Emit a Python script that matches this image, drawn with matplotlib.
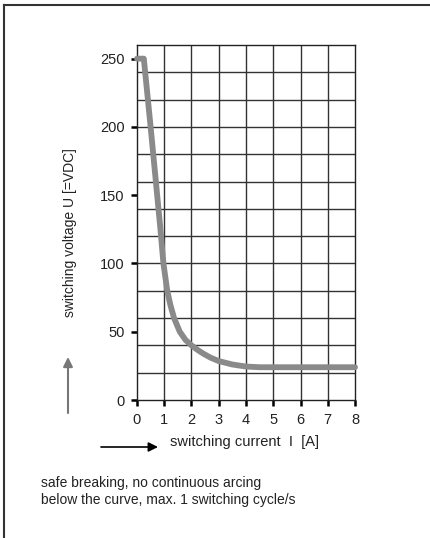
import matplotlib
matplotlib.use("Agg")
from matplotlib import pyplot as plt
from matplotlib.lines import Line2D
import numpy as np

# curve
current = [0.0, 0.25, 0.5, 0.74, 0.86, 0.97, 1.11, 1.22, 1.36, 1.57, 1.78, 2.0, 2.2, 2.43, 2.7, 3.0, 3.5, 4.0, 4.5, 8.0]
voltage = [250, 250, 200, 150, 125, 100, 80, 70, 60, 50, 44, 40, 37, 34, 31, 28.5, 26, 24.5, 24, 24]

x_ticks = [0, 1, 2, 3, 4, 5, 6, 7, 8]
y_ticks = [0, 50, 100, 150, 200, 250]

plt.rcParams['font.family'] = ['Liberation Sans Narrow', 'Liberation Sans', 'DejaVu Sans']

W, H = 431, 538
fig = plt.figure(figsize=(W / 100, H / 100), dpi=100)

# axes box in pixels: left 137, right 355, top 45, bottom 400
ax = fig.add_axes([137 / W, 1 - 400 / H, (355 - 137) / W, (400 - 45) / H])
ax.set_xlim(0, 8)
ax.set_ylim(0, 260)
for gx in np.arange(1, 8, 1):
    ax.axvline(gx, color='#333333', linewidth=1.0, zorder=1)
for gy in np.arange(20, 260, 20):
    ax.axhline(gy, color='#333333', linewidth=1.0, zorder=1)
ax.set_xticks(x_ticks)
ax.set_yticks(y_ticks)
ax.set_xticklabels([str(t) for t in x_ticks])
ax.set_yticklabels([str(t) for t in y_ticks])
ax.tick_params(direction='out', length=4, width=1.8, color='black',
               labelsize=10.5, labelcolor='#222222', pad=5)
for s in ax.spines.values():
    s.set_color('#222222')
    s.set_linewidth(1.0)

ax.plot(current, voltage, color='#8a8a8a', linewidth=4.2, solid_capstyle='round',
        solid_joinstyle='round', clip_on=False, zorder=3)

# labels
fig.text(70 / W, 1 - 233 / H, 'switching voltage U [=VDC]', rotation=90,
         ha='center', va='center', fontsize=10, color='#222222')
fig.text(170 / W, 1 - 442 / H, 'switching current  I  [A]', ha='left', va='center',
         fontsize=10.5, color='#222222')

# arrows
ax_f = fig.add_axes([0, 0, 1, 1], facecolor='none')
ax_f.set_xlim(0, W)
ax_f.set_ylim(H, 0)
ax_f.axis('off')
ax_f.annotate('', xy=(68, 357), xytext=(68, 413),
              arrowprops=dict(arrowstyle='-|>', color='#777777', lw=1.5,
                              mutation_scale=14, shrinkA=0, shrinkB=0))
ax_f.annotate('', xy=(158, 447), xytext=(101, 447),
              arrowprops=dict(arrowstyle='-|>', color='black', lw=1.2,
                              mutation_scale=14, shrinkA=0, shrinkB=0))

# note
fig.text(41 / W, 1 - 483 / H, 'safe breaking, no continuous arcing', ha='left',
         va='center', fontsize=10, color='#222222')
fig.text(41 / W, 1 - 500 / H, 'below the curve, max. 1 switching cycle/s', ha='left',
         va='center', fontsize=10, color='#222222')

# frame (top and left only)
ax_f.add_line(Line2D([4, 4], [4.5, H], color='#333333', linewidth=1.5))
ax_f.add_line(Line2D([4, W], [4.5, 4.5], color='#333333', linewidth=1.5))

fig.savefig('out.png', dpi=100)
